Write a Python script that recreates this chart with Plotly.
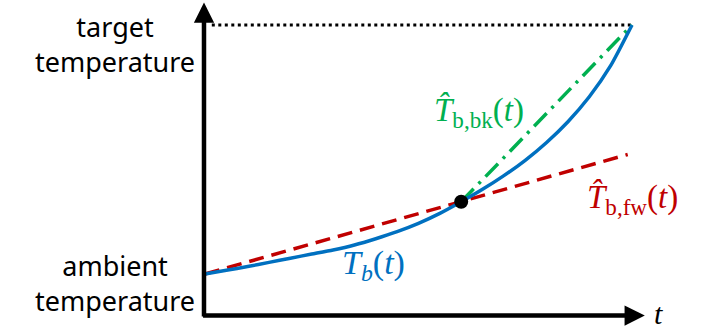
import plotly.graph_objects as go

# data (t in arbitrary units, temperature in arbitrary units)
t_curve = [0, 0.5, 1, 1.5, 2, 2.5, 3, 3.5, 4, 4.5, 5, 5.5, 6, 6.5, 7, 7.5, 8, 8.5, 9, 9.5, 10]
T_curve = [20, 20.9, 21.8, 22.8, 23.8, 24.8, 25.8, 27.0, 28.5, 30.2, 32.2, 34.6, 37.4,
           40.4, 43.7, 47.4, 51.7, 56.7, 62.7, 70.2, 80]

t_fw = [0, 9.9]
T_fw = [20, 48.8]

t_bk = [6, 10]
T_bk = [37.4, 80]

t_point = [6]
T_point = [37.4]

t_target = [0.16, 10]
T_target = [80, 80]

blue = "#0070C0"
red = "#C00000"
green = "#00B050"

fig = go.Figure()

fig.add_trace(go.Scatter(x=t_target, y=T_target, mode="lines",
                         line=dict(color="black", width=3, dash="3px,3.5px")))
fig.add_trace(go.Scatter(x=t_fw, y=T_fw, mode="lines",
                         line=dict(color=red, width=3.5, dash="15px,8px")))
fig.add_trace(go.Scatter(x=t_bk, y=T_bk, mode="lines",
                         line=dict(color=green, width=3.5, dash="18px,7px,3px,7px")))
fig.add_trace(go.Scatter(x=t_curve, y=T_curve, mode="lines",
                         line=dict(color=blue, width=3.5, shape="spline", smoothing=0.6)))
fig.add_trace(go.Scatter(x=t_point, y=T_point, mode="markers",
                         marker=dict(color="black", size=14)))

# axes drawn as arrows
fig.add_annotation(x=10.3, y=10, ax=-0.08, ay=10, xref="x", yref="y", axref="x", ayref="y",
                   showarrow=True, arrowhead=2, arrowwidth=4.5, arrowsize=0.9,
                   arrowcolor="black", text="")
fig.add_annotation(x=-0.023, y=85.4, ax=-0.023, ay=9.4, xref="x", yref="y", axref="x", ayref="y",
                   showarrow=True, arrowhead=2, arrowwidth=4.5, arrowsize=0.9,
                   arrowcolor="black", text="")

txt = dict(family="Noto Sans", size=27, color="black")
math = "Liberation Serif"

fig.add_annotation(x=-2.11, y=75.4, xref="x", yref="y", text="target<br>temperature",
                   showarrow=False, font=txt, align="center")
fig.add_annotation(x=-2.11, y=17.8, xref="x", yref="y", text="ambient<br>temperature",
                   showarrow=False, font=txt, align="center")
fig.add_annotation(x=10.61, y=10.4, xref="x", yref="y", text="<i>t</i>",
                   showarrow=False, font=dict(family=math, size=30, color="black"))
fig.add_annotation(x=3.95, y=22.2, xref="x", yref="y", text="<i>T<sub>b</sub></i>(<i>t</i>)",
                   showarrow=False, font=dict(family=math, size=34, color=blue))
fig.add_annotation(x=6.42, y=58.8, xref="x", yref="y", text="<i>T\u0302</i><sub>b,bk</sub>(<i>t</i>)",
                   showarrow=False, font=dict(family=math, size=33, color=green))
fig.add_annotation(x=10.0, y=38.0, xref="x", yref="y", text="<i>T\u0302</i><sub>b,fw</sub>(<i>t</i>)",
                   showarrow=False, font=dict(family=math, size=33, color=red))

fig.update_layout(width=706, height=331, showlegend=False,
                  margin=dict(l=0, r=0, t=0, b=0),
                  plot_bgcolor="white", paper_bgcolor="white")
fig.update_xaxes(range=[-4.80, 11.733], visible=False)
fig.update_yaxes(range=[6.265, 86.02], visible=False)

fig.write_html("out.html", config={"displayModeBar": False},
               post_script="document.body.style.margin='0px';")
